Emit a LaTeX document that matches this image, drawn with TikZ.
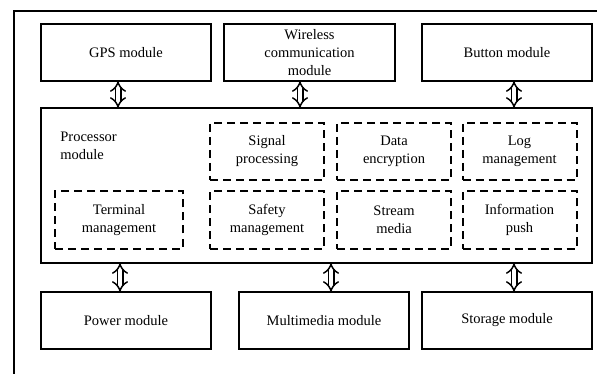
\documentclass[tikz,border=0pt]{standalone}
\usepackage{fontspec}
\setmainfont{Liberation Serif}
\usetikzlibrary{arrows.meta, calc}

\begin{document}
\begin{tikzpicture}[x=1pt, y=-1pt, thick, font=\fontsize{14.5}{18}\selectfont]
				\tikzstyle{module}=[draw=black, line width=2pt, align=center, minimum height=57pt, minimum width=170pt, inner sep=0pt]
				\tikzstyle{part}=[draw=black, line width=2pt, dash pattern=on 8pt off 5pt, align=center, minimum height=57pt, minimum width=114pt, inner sep=0pt]
				\tikzstyle{link}=[draw, double=white, double distance=4pt, line width=1.5pt, {Implies[length=5pt]}-{Implies[length=5pt]}]

				\useasboundingbox (0, 0) rectangle (597, 374);
				\draw[line width=2pt] (14, 380) -- (14, 11) -- (605, 11);

				\node[module] at (126, 52.5) (GPS) {GPS module};
				\node[module, minimum width=171pt] at (309.5, 52.5) (W) {Wireless\\communication\\module};
				\node[module] at (507, 52.5) (B) {Button module};

				\node[module, minimum width=551pt, minimum height=155pt] at (316.5, 185.5) (P) {};
				\node[align=left, anchor=north west, inner sep=0pt] at (60, 132) (PT) {Processor\\module};

				\node[part] at (267, 151.5) (SP) {Signal\\processing};
				\node[part] at (394, 151.5) (DE) {Data\\encryption};
				\node[part] at (519.5, 151.5) (LM) {Log\\management};
				\node[part, minimum width=128pt] at (119, 220) (TM) {Terminal\\management};
				\node[part] at (267, 220) (SM) {Safety\\management};
				\node[part] at (394, 220) (SMD) {Stream\\media};
				\node[part] at (519.5, 220) (IP) {Information\\push};

				\node[module] at (126, 320.5) (PW) {Power module};
				\node[module] at (324, 320.5) (MM) {Multimedia module};
				\node[module] at (507, 320.5) (ST) {Storage module};

				\draw[link] ($(GPS.south)+(-8,-1)$) -- ($(GPS.south |- P.north)+(-8,1)$);
				\draw[link] ($(W.south)+(-9.5,-1)$) -- ($(W.south |- P.north)+(-9.5,1)$);
				\draw[link] ($(B.south)+(7,-1)$) -- ($(B.south |- P.north)+(7,1)$);
				\draw[link] ($(PW.north |- P.south)+(-6,-1)$) -- ($(PW.north)+(-6,1)$);
				\draw[link] ($(MM.north |- P.south)+(7,-1)$) -- ($(MM.north)+(7,1)$);
				\draw[link] ($(ST.north |- P.south)+(7,-1)$) -- ($(ST.north)+(7,1)$);
		  \end{tikzpicture}
\end{document}
